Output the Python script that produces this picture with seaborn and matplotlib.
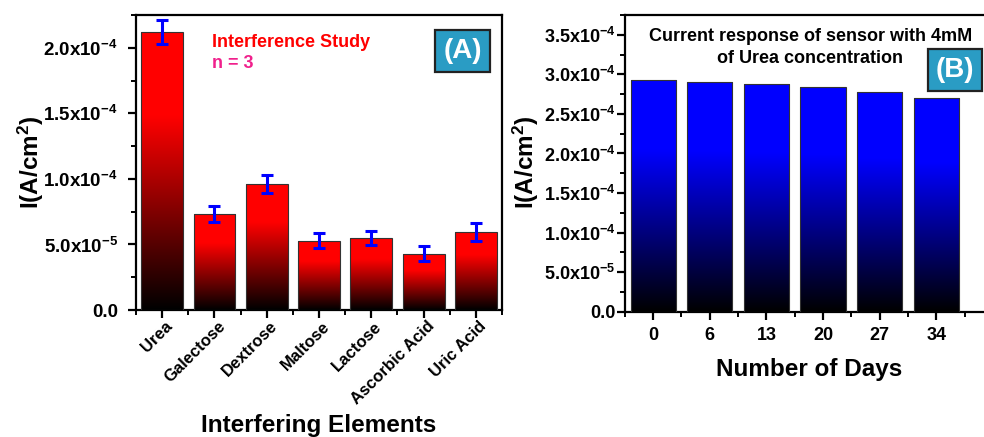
import matplotlib
matplotlib.use("Agg")
import matplotlib.pyplot as plt
import matplotlib.transforms as mtrans
import seaborn as sns
import numpy as np
from matplotlib.ticker import MultipleLocator, FuncFormatter

# data
interferents = ['Urea', 'Galectose', 'Dextrose', 'Maltose', 'Lactose', 'Ascorbic Acid', 'Uric Acid']
current_a = [2.12e-4, 7.3e-5, 9.6e-5, 5.3e-5, 5.5e-5, 4.3e-5, 5.95e-5]
err_a = [9e-6, 6e-6, 7e-6, 5.5e-6, 5.5e-6, 5.5e-6, 7e-6]

days = ['0', '6', '13', '20', '27', '34']
current_b = [2.925e-4, 2.90e-4, 2.88e-4, 2.845e-4, 2.775e-4, 2.70e-4]

sns.set_style('ticks')
plt.rcParams['font.family'] = ['Liberation Sans', 'DejaVu Sans']
plt.rcParams['font.weight'] = 'bold'
plt.rcParams['mathtext.fontset'] = 'custom'
plt.rcParams['mathtext.rm'] = 'Liberation Sans:bold'
plt.rcParams['mathtext.it'] = 'Liberation Sans:bold'
plt.rcParams['mathtext.bf'] = 'Liberation Sans:bold'
plt.rcParams['axes.unicode_minus'] = False
for k in ['text.color', 'axes.labelcolor', 'xtick.color', 'ytick.color']:
    plt.rcParams[k] = 'black'


def sci_fmt(v, pos):
    if abs(v) < 1e-12:
        return '0.0'
    e = int(np.floor(np.log10(abs(v))))
    m = v / 10 ** e
    return r'$%.1fx10^{%d}$' % (m, e)


def gradient_bars(ax, rgb, full_at=0.7):
    # black at the bottom of each bar -> colour towards the top
    n = 256
    t = np.linspace(0, 1, n)
    f = np.clip(t / full_at, 0, 1)
    img = np.zeros((n, 1, 3))
    for i in range(3):
        img[:, 0, i] = f * rgb[i]
    xl, yl = ax.get_xlim(), ax.get_ylim()
    for p in ax.patches:
        x0, y0, w, h = p.get_x(), p.get_y(), p.get_width(), p.get_height()
        p.set_facecolor('none')
        p.set_edgecolor('#333333')
        p.set_linewidth(0.8)
        p.set_zorder(3)
        im = ax.imshow(img, extent=[x0, x0 + w, y0, y0 + h], origin='lower',
                       aspect='auto', zorder=2, interpolation='bilinear')
        im.set_clip_path(p)
    ax.set_xlim(xl)
    ax.set_ylim(yl)


def style_axes(ax, ypad):
    for s in ax.spines.values():
        s.set_linewidth(1.6)
        s.set_color('black')
    ax.spines['right'].set_visible(False)
    ax.tick_params(axis='both', which='major', direction='out', length=6, width=1.6,
                   labelsize=13.5)
    ax.tick_params(axis='both', which='minor', direction='out', length=3.5, width=1.4)
    ax.tick_params(axis='y', which='major', pad=ypad)
    ax.tick_params(top=False, right=False, which='both')
    ax.yaxis.set_major_locator(MultipleLocator(5e-5))
    ax.yaxis.set_minor_locator(MultipleLocator(2.5e-5))
    ax.xaxis.set_minor_locator(MultipleLocator(0.5))
    ax.yaxis.set_major_formatter(FuncFormatter(sci_fmt))


def panel_tag(ax, x, y, s):
    ax.text(x, y, s, transform=ax.transAxes, color='white', fontsize=20,
            fontweight='bold', ha='center', va='center', zorder=6,
            bbox=dict(boxstyle='square,pad=0.28', facecolor='#2a9cc4',
                      edgecolor='#222222', linewidth=1.6))


fig = plt.figure(figsize=(9.84, 4.37), dpi=100)

# ---------------- panel A ----------------
axA = fig.add_axes([0.1382, 0.2906, 0.372, 0.675])
sns.barplot(x=interferents, y=current_a, ax=axA, color='red', width=0.8)
axA.set_xlim(-0.5, 6.5)
axA.set_ylim(0, 2.25e-4)
gradient_bars(axA, (1.0, 0.0, 0.0))
xs = [p.get_x() + p.get_width() / 2 for p in axA.patches]
axA.errorbar(xs, current_a, yerr=err_a, fmt='none', ecolor='blue', elinewidth=2.2,
             capsize=4, capthick=2.2, zorder=5)
style_axes(axA, 7)
axA.spines['right'].set_visible(True)
axA.tick_params(axis='x', pad=4)
shift = mtrans.ScaledTranslation(6 / 72, 0, fig.dpi_scale_trans)
for lab in axA.get_xticklabels():
    lab.set_rotation(45)
    lab.set_ha('right')
    lab.set_va('center')
    lab.set_rotation_mode('anchor')
    lab.set_fontsize(12)
    lab.set_transform(lab.get_transform() + shift)
axA.set_ylabel('I(A/cm$^2$)', fontsize=17.5, fontweight='bold')
axA.yaxis.set_label_coords(-0.246, 0.5)
axA.set_xlabel('Interfering Elements', fontsize=17.5, fontweight='bold')
axA.xaxis.set_label_coords(0.5, -0.353)
axA.text(0.207, 0.908, 'Interference Study', transform=axA.transAxes, color='#ff0000',
         fontsize=13, fontweight='bold', va='center', ha='left')
axA.text(0.207, 0.837, 'n = 3', transform=axA.transAxes, color='#f0208c',
         fontsize=13, fontweight='bold', va='center', ha='left')
panel_tag(axA, 0.892, 0.878, '(A)')

# ---------------- panel B ----------------
axB = fig.add_axes([0.635, 0.2867, 0.374, 0.679])
sns.barplot(x=days, y=current_b, ax=axB, color='blue', width=0.8)
axB.set_xlim(-0.5, 6.0)
axB.set_ylim(0, 3.75e-4)
gradient_bars(axB, (0.0, 0.0, 1.0))
style_axes(axB, 0.8)
axB.tick_params(axis='y', labelsize=13)
plt.setp(axB.get_xticklabels(), fontsize=13, fontweight='bold')
axB.tick_params(axis='x', pad=5)
axB.set_ylabel('I(A/cm$^2$)', fontsize=17.5, fontweight='bold')
axB.yaxis.set_label_coords(-0.228, 0.505)
axB.set_xlabel('Number of Days', fontsize=17.5, fontweight='bold')
axB.xaxis.set_label_coords(0.5, -0.156)
axB.text(0.504, 0.929, 'Current response of sensor with 4mM', transform=axB.transAxes,
         fontsize=13, fontweight='bold', ha='center', va='center')
axB.text(0.504, 0.852, 'of Urea concentration', transform=axB.transAxes,
         fontsize=13, fontweight='bold', ha='center', va='center')
panel_tag(axB, 0.898, 0.815, '(B)')

fig.savefig('out.png', dpi=100)
